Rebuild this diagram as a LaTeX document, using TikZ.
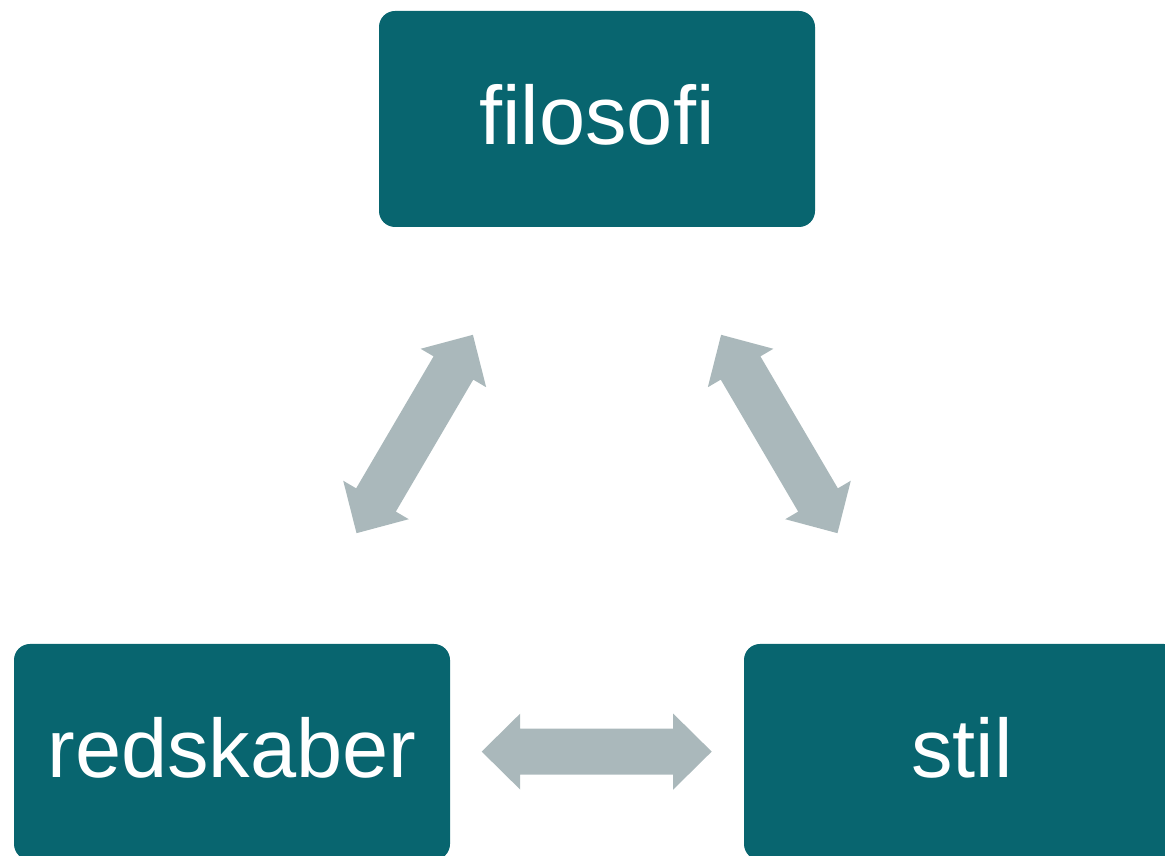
\documentclass[tikz,border=0pt]{standalone}
\usepackage{fontspec}
\setmainfont{Liberation Sans}
\definecolor{boxteal}{HTML}{08656F}
\definecolor{arrowgray}{HTML}{AAB8BB}
\begin{document}
\begin{tikzpicture}[x=1pt,y=1pt,
  topic/.style={fill=boxteal, draw=none, rounded corners=16pt, inner sep=0pt,
    minimum width=436pt, minimum height=216pt, text height=60pt, text depth=8pt,
    text=white, font=\fontsize{83}{83}\selectfont},
  dblarrow/.pic={\fill[arrowgray] (115,0) -- (76.5,38) -- (76.5,23) -- (-76.5,23) -- (-76.5,38)
     -- (-115,0) -- (-76.5,-38) -- (-76.5,-23) -- (76.5,-23) -- (76.5,-38) -- cycle;}]
\useasboundingbox (0,0) rectangle (1165,856);
\node[topic] (filosofi) at (597,737) {filosofi};
\node[topic] (redskaber) at (232,104) {redskaber};
\node[topic] (stil) at (962,104) {stil};
\coordinate (aL) at (414.7,422);
\coordinate (aR) at (779.3,422);
\coordinate (aB) at (596.7,104.4);
\pic[rotate=59.6] at (aL) {dblarrow};
\pic[rotate=-59.6] at (aR) {dblarrow};
\pic at (aB) {dblarrow};
\end{tikzpicture}
\end{document}
